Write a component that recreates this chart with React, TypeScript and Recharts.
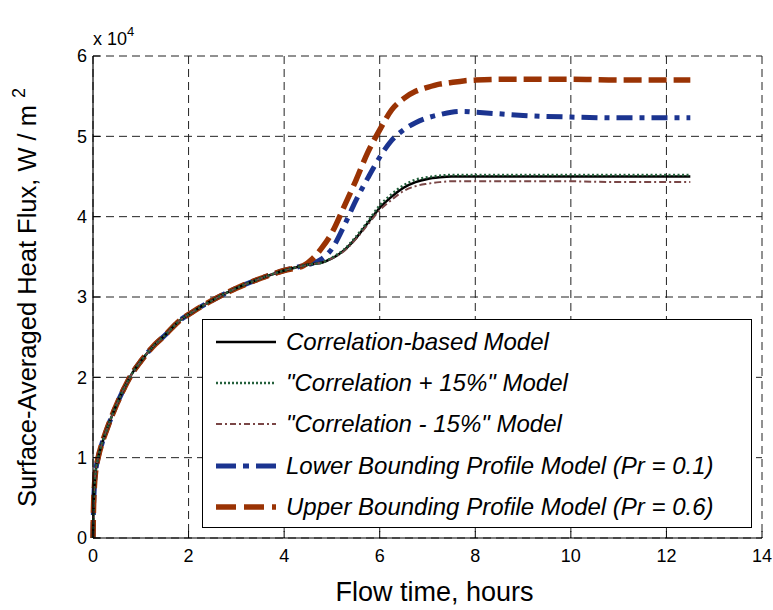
import React from 'react';
import { LineChart, Line, XAxis, YAxis, CartesianGrid, Legend } from 'recharts';

const FONT = '"Liberation Sans", Arial, Helvetica, sans-serif';

// Flow time, hours
const timeHours = [
  0, 0.01, 0.03, 0.06, 0.1, 0.2, 0.3, 0.45, 0.6, 0.8, 1.0, 1.25, 1.5, 1.8, 2.1, 2.5, 3.0, 3.5, 4.0, 4.4,
  4.6, 4.8, 5.0, 5.25, 5.5, 5.75, 6.0, 6.25, 6.5, 6.75, 7.0, 7.25, 7.5, 7.75, 8.0, 8.5, 9.0, 10.0, 11.0, 12.0, 12.5,
];

// shared early transient (x 10^4 W/m^2)
const earlyPhase = [0, 0.35, 0.65, 0.85, 0.98, 1.2, 1.37, 1.6, 1.8, 2.03, 2.2, 2.38, 2.52, 2.7, 2.82, 2.96, 3.11, 3.23, 3.33, 3.39];

const correlationLate = [3.41, 3.43, 3.48, 3.58, 3.73, 3.92, 4.11, 4.25, 4.36, 4.43, 4.47, 4.49, 4.5, 4.5, 4.5, 4.5, 4.5, 4.5, 4.5, 4.5, 4.5];
const plus15Late = [3.41, 3.43, 3.49, 3.59, 3.75, 3.94, 4.14, 4.28, 4.39, 4.46, 4.49, 4.51, 4.52, 4.52, 4.52, 4.52, 4.52, 4.52, 4.52, 4.52, 4.52];
const minus15Late = [3.41, 3.43, 3.48, 3.57, 3.72, 3.9, 4.08, 4.21, 4.32, 4.38, 4.41, 4.43, 4.44, 4.44, 4.44, 4.44, 4.44, 4.44, 4.43, 4.43, 4.43];
const lowerLate = [3.42, 3.48, 3.6, 3.88, 4.2, 4.48, 4.74, 4.95, 5.08, 5.17, 5.23, 5.27, 5.3, 5.31, 5.3, 5.28, 5.26, 5.24, 5.23, 5.23, 5.23];
const upperLate = [3.48, 3.62, 3.8, 4.12, 4.45, 4.8, 5.08, 5.33, 5.47, 5.56, 5.61, 5.65, 5.67, 5.69, 5.7, 5.71, 5.71, 5.71, 5.7, 5.7, 5.7];

const xTicks = [0, 2, 4, 6, 8, 10, 12, 14];
const yTicks = [0, 1, 2, 3, 4, 5, 6];

const seriesNames = [
  'Correlation-based Model',
  '"Correlation + 15%" Model',
  '"Correlation - 15%" Model',
  'Lower Bounding Profile Model (Pr = 0.1)',
  'Upper Bounding Profile Model (Pr = 0.6)',
];

const seriesKeys = ['corr', 'plus', 'minus', 'lower', 'upper'];
const seriesLate = [correlationLate, plus15Late, minus15Late, lowerLate, upperLate];

const seriesStyle: Record<string, { color: string; width: number; dash?: string; legendDash?: string }> = {
  corr: { color: '#000000', width: 2.5 },
  plus: { color: '#24603c', width: 2.5, dash: '2 2.5', legendDash: '2 2' },
  minus: { color: '#7a4646', width: 2, dash: '7 3 2 3', legendDash: '6 3 2 3' },
  lower: { color: '#1b3490', width: 5, dash: '16 7 5 7', legendDash: '20 7 6 7' },
  upper: { color: '#9a3304', width: 5.5, dash: '18 7', legendDash: '20 8' },
};

const data = timeHours.map((t, i) => {
  const row: Record<string, number> = { t };
  seriesKeys.forEach((k, s) => {
    row[k] = i < earlyPhase.length ? earlyPhase[i] : seriesLate[s][i - earlyPhase.length];
  });
  return row;
});

const drawOrder = ['lower', 'upper', 'corr', 'minus', 'plus'];

const LegendBox = () => (
  <div
    style={{
      width: 550,
      height: 209,
      border: '1px solid #000',
      background: '#fff',
      boxSizing: 'border-box',
      paddingTop: 1,
      fontFamily: FONT,
    }}
  >
    {seriesKeys.map((k, i) => {
      const st = seriesStyle[k];
      return (
        <div key={k} style={{ display: 'flex', alignItems: 'center', height: 41.3 }}>
          <svg width={60} height={12} style={{ marginLeft: 13, display: 'block' }}>
            <line x1={0} y1={6} x2={60} y2={6} stroke={st.color} strokeWidth={st.width} strokeDasharray={st.legendDash} />
          </svg>
          <span style={{ marginLeft: 10, fontStyle: 'italic', fontSize: 24, color: '#000', whiteSpace: 'nowrap' }}>
            {seriesNames[i]}
          </span>
        </div>
      );
    })}
  </div>
);

const TitleLabel = (props: any) => {
  const vb = props.viewBox || { x: 93, y: 56, width: 669 };
  return (
    <text x={vb.x + vb.width / 2 - 7} y={27} textAnchor="middle" fontFamily={FONT} fontStyle="italic" fontSize={25} fill="#000">
      Transient Heat Fluxes to Vessel Wall
    </text>
  );
};

const XLabel = (props: any) => {
  const vb = props.viewBox || { x: 93, width: 669 };
  return (
    <text x={vb.x + vb.width / 2 + 7} y={601} textAnchor="middle" fontFamily={FONT} fontSize={27} fill="#000">
      Flow time, hours
    </text>
  );
};

const YLabel = (props: any) => {
  const vb = props.viewBox || { x: 0, y: 56, width: 93, height: 482 };
  const x = 36;
  const y = vb.y + vb.height - 31;
  return (
    <g>
      <text x={x} y={y} transform={`rotate(-90 ${x} ${y})`} fontFamily={FONT} fontSize={25.5} fill="#000">
        Surface-Averaged Heat Flux, W / m
        <tspan dx={7} dy={-11} fontSize={18}>2</tspan>
      </text>
      <text x={vb.x + vb.width} y={45} fontFamily={FONT} fontSize={18} fill="#000">
        x 10<tspan dy={-9} fontSize={13}>4</tspan>
      </text>
    </g>
  );
};

export default function App() {
  return (
    <div style={{ position: 'absolute', left: 0, top: 0, width: 773, height: 610, background: '#fff' }}>
      <LineChart width={773} height={610} data={data} margin={{ top: 56, right: 11, bottom: 0, left: 0 }}>
        <CartesianGrid stroke="#222" strokeDasharray="8 5" strokeWidth={1} />
        <XAxis
          dataKey="t"
          type="number"
          domain={[0, 14]}
          ticks={xTicks}
          interval={0}
          height={72}
          tickSize={-7}
          tickMargin={18}
          axisLine={{ stroke: '#000', strokeWidth: 1.2 }}
          tickLine={{ stroke: '#000' }}
          tick={{ fill: '#000', fontSize: 18, fontFamily: FONT }}
          label={<XLabel />}
        />
        <XAxis
          xAxisId="top"
          orientation="top"
          type="number"
          domain={[0, 14]}
          ticks={xTicks}
          interval={0}
          height={0}
          tickSize={-7}
          axisLine={{ stroke: '#000', strokeWidth: 1.2 }}
          tickLine={{ stroke: '#000' }}
          tick={false}
          label={<TitleLabel />}
        />
        <YAxis
          type="number"
          domain={[0, 6]}
          ticks={yTicks}
          interval={0}
          width={93}
          tickSize={-7}
          tickMargin={13}
          axisLine={{ stroke: '#000', strokeWidth: 1.2 }}
          tickLine={{ stroke: '#000' }}
          tick={{ fill: '#000', fontSize: 18, fontFamily: FONT }}
          label={<YLabel />}
        />
        <YAxis
          yAxisId="right"
          orientation="right"
          type="number"
          domain={[0, 6]}
          ticks={yTicks}
          interval={0}
          width={0}
          tickSize={-7}
          axisLine={{ stroke: '#000', strokeWidth: 1.2 }}
          tickLine={{ stroke: '#000' }}
          tick={false}
        />
        {drawOrder.map((k) => {
          const st = seriesStyle[k];
          return (
            <Line
              key={k}
              type="monotone"
              dataKey={k}
              name={seriesNames[seriesKeys.indexOf(k)]}
              stroke={st.color}
              strokeWidth={st.width}
              strokeDasharray={st.dash}
              dot={false}
              activeDot={false}
              isAnimationActive={false}
            />
          );
        })}
        <Legend
          layout="vertical"
          align="center"
          verticalAlign="middle"
          content={<LegendBox />}
          wrapperStyle={{ left: 202, top: 319, width: 550, height: 209 }}
        />
      </LineChart>
    </div>
  );
}
